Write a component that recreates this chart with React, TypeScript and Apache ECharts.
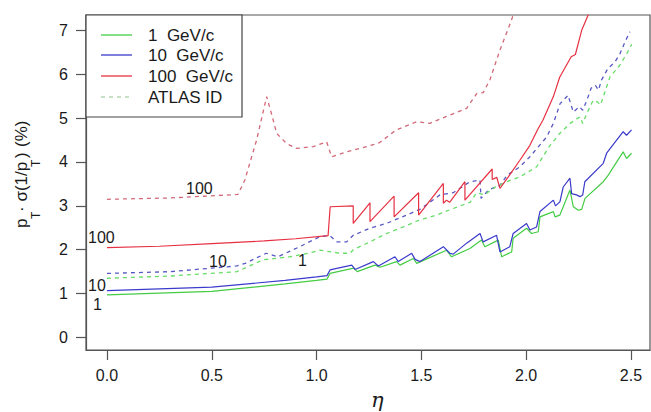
import React, { useEffect, useRef } from "react";
import * as echarts from "echarts";

// ---- axis ticks ----
const xTicks = [0, 0.5, 1.0, 1.5, 2.0, 2.5];
const yTicks = [0, 1, 2, 3, 4, 5, 6, 7];

// ---- series data: [eta, value(%)] ----
const green1: number[][] = [
  [0, 0.97], [0.5, 1.05], [0.85, 1.22], [1.0, 1.3], [1.05, 1.33], [1.064, 1.46],
  [1.178, 1.58], [1.194, 1.5], [1.279, 1.65], [1.303, 1.6], [1.382, 1.73], [1.398, 1.65],
  [1.462, 1.8], [1.478, 1.69], [1.62, 1.99], [1.644, 1.84], [1.732, 2.03], [1.787, 2.22],
  [1.803, 2.07], [1.867, 2.22], [1.883, 1.84], [1.931, 1.95], [1.938, 2.26], [2.002, 2.49],
  [2.026, 2.37], [2.058, 2.41], [2.066, 2.75], [2.13, 2.87], [2.138, 2.75], [2.161, 2.79],
  [2.177, 2.98], [2.209, 3.36], [2.225, 2.98], [2.249, 2.9], [2.265, 2.92], [2.281, 3.17],
  [2.368, 3.55], [2.392, 3.7], [2.463, 4.23], [2.479, 4.08], [2.503, 4.2],
];
const blue10: number[][] = [
  [0, 1.07], [0.5, 1.15], [0.85, 1.3], [1.0, 1.38], [1.05, 1.41], [1.064, 1.54],
  [1.168, 1.65], [1.184, 1.55], [1.271, 1.73], [1.295, 1.63], [1.374, 1.84], [1.39, 1.73],
  [1.454, 1.92], [1.47, 1.78], [1.494, 1.73], [1.605, 2.07], [1.636, 1.92], [1.652, 1.9],
  [1.716, 2.15], [1.78, 2.37], [1.795, 2.18], [1.859, 2.33], [1.875, 1.95], [1.922, 2.07],
  [1.938, 2.37], [2.002, 2.6], [2.018, 2.45], [2.05, 2.52], [2.066, 2.87], [2.13, 3.13],
  [2.14, 3.0], [2.161, 3.09], [2.177, 3.43], [2.209, 3.63], [2.217, 3.28], [2.24, 3.25],
  [2.257, 3.21], [2.27, 3.25], [2.28, 3.55], [2.368, 3.97], [2.384, 4.2], [2.463, 4.69],
  [2.479, 4.61], [2.503, 4.73],
];
const red100: number[][] = [
  [0, 2.05], [0.25, 2.08], [0.5, 2.14], [0.75, 2.2], [0.9, 2.25], [1.055, 2.32],
  [1.065, 2.98], [1.175, 3.0], [1.175, 2.6], [1.255, 3.07], [1.255, 2.64], [1.37, 3.22],
  [1.37, 2.75], [1.487, 3.3], [1.487, 2.79], [1.605, 3.51], [1.605, 3.06], [1.62, 3.13],
  [1.635, 3.08], [1.708, 3.55], [1.708, 3.13], [1.838, 3.84], [1.838, 3.6], [1.86, 3.65],
  [1.875, 3.4], [1.915, 3.66], [1.97, 4.04], [2.018, 4.38], [2.055, 4.74], [2.08, 4.95],
  [2.13, 5.49], [2.16, 5.93], [2.215, 6.4], [2.235, 6.45], [2.265, 7.0], [2.296, 7.35],
  [2.32, 7.7],
];
const atlas1: number[][] = [
  [0, 1.35], [0.3, 1.4], [0.62, 1.5], [0.745, 1.77], [0.873, 1.84], [0.96, 1.92],
  [1.016, 1.99], [1.112, 1.92], [1.16, 1.92], [1.175, 2.0], [1.255, 2.18], [1.334, 2.37],
  [1.414, 2.52], [1.493, 2.68], [1.573, 2.79], [1.652, 2.94], [1.732, 3.08], [1.764, 3.3],
  [1.8, 3.25], [1.85, 3.42], [1.907, 3.55], [1.97, 3.66], [2.05, 3.89], [2.11, 4.35],
  [2.16, 4.65], [2.21, 4.88], [2.257, 5.03], [2.27, 4.88], [2.29, 5.11], [2.32, 5.41],
  [2.34, 5.37], [2.355, 5.3], [2.4, 5.94], [2.448, 6.21], [2.48, 6.47], [2.504, 6.68],
];
const atlas10: number[][] = [
  [0, 1.46], [0.3, 1.5], [0.62, 1.63], [0.66, 1.69], [0.76, 1.92], [0.816, 1.84],
  [0.92, 2.07], [1.016, 2.3], [1.064, 2.32], [1.096, 2.18], [1.144, 2.18], [1.175, 2.33],
  [1.255, 2.49], [1.334, 2.6], [1.43, 2.79], [1.493, 2.92], [1.589, 3.25], [1.652, 3.3],
  [1.732, 3.55], [1.78, 3.59], [1.785, 3.17], [1.82, 3.36], [1.875, 3.47], [1.91, 3.7],
  [1.97, 3.89], [2.018, 4.12], [2.098, 4.57], [2.13, 4.88], [2.162, 5.33], [2.2, 5.52],
  [2.225, 5.14], [2.254, 5.26], [2.27, 5.18], [2.29, 5.41], [2.31, 5.68], [2.33, 5.75],
  [2.345, 5.64], [2.36, 5.87], [2.39, 6.13], [2.424, 6.28], [2.448, 6.47], [2.472, 6.74],
  [2.495, 6.97],
];
const atlas100: number[][] = [
  [0, 3.15], [0.3, 3.18], [0.625, 3.26], [0.658, 3.59], [0.714, 4.5], [0.762, 5.49],
  [0.785, 5.1], [0.81, 4.65], [0.857, 4.42], [0.905, 4.31], [0.984, 4.35], [1.048, 4.46],
  [1.072, 4.12], [1.144, 4.23], [1.24, 4.35], [1.3, 4.44], [1.38, 4.73], [1.478, 4.92],
  [1.54, 4.88], [1.636, 5.07], [1.716, 5.22], [1.764, 5.56], [1.795, 5.58], [1.827, 5.87],
  [1.875, 6.55], [1.93, 7.23], [1.96, 7.7],
];

const legendLabels = ["1\u00a0\u00a0GeV/c", "10\u00a0\u00a0GeV/c", "100\u00a0\u00a0GeV/c", "ATLAS ID"];

const C_GREEN = "#44cc44";
const C_BLUE = "#3a3acc";
const C_RED = "#e63042";
const C_GREEN_D = "#66dd66";
const C_BLUE_D = "#5858c4";
const C_RED_D = "#d26878";
const FONT = "Liberation Sans, Arial, sans-serif";
const TXT = "#1a1a1a";

function txt(text: string, x: number, y: number, size = 16, extra: any = {}) {
  return {
    type: "text",
    x,
    y,
    silent: true,
    style: {
      text,
      fontSize: size,
      fontFamily: FONT,
      fill: TXT,
      align: "left",
      textAlign: "left",
      verticalAlign: "middle",
      textVerticalAlign: "middle",
      ...extra,
    },
  };
}

export default function App() {
  const ref = useRef<HTMLDivElement>(null);
  useEffect(() => {
    document.body.style.margin = "0";
    const chart = echarts.init(ref.current!, null, { renderer: "svg" });
    const line = (name: string, data: number[][], color: string, dashed: boolean) => ({
      name,
      type: "line",
      data,
      showSymbol: false,
      symbol: "none",
      clip: true,
      silent: true,
      lineStyle: { color, width: dashed ? 1.3 : 1.2, type: dashed ? [4, 4] : "solid" },
      z: dashed ? 2 : 3,
    });
    const legendRows = [35, 55, 76, 97];
    const legendColors = [C_GREEN, C_BLUE, C_RED, "#b4d8b4"];
    const graphic: any[] = [
      { type: "rect", shape: { x: 86, y: 15, width: 156, height: 102 }, style: { fill: "#fff", stroke: "#444", lineWidth: 1.2 }, z: 50 },
    ];
    legendRows.forEach((y, i) => {
      graphic.push({
        type: "line",
        shape: { x1: 101, y1: y, x2: 132, y2: y },
        style: { stroke: legendColors[i], lineWidth: 1.3, lineDash: i === 3 ? [4, 4] : null },
        z: 51,
      });
      graphic.push({ ...txt(legendLabels[i], 148, y, 17), z: 51 });
    });
    // inline curve labels
    graphic.push(txt("100", 88, 237, 16));
    graphic.push(txt("10", 88, 285, 16));
    graphic.push(txt("1", 93, 304, 16));
    graphic.push(txt("10", 209, 261, 16));
    graphic.push(txt("1", 298, 260, 16));
    graphic.push(txt("100", 186, 188, 16));
    // x axis title
    graphic.push(txt("\u03b7", 371, 400, 21, { fontFamily: "DejaVu Serif, serif", fontStyle: "italic" }));
    // y axis title (rotated)
    graphic.push({
      type: "group",
      x: 0,
      y: 230,
      rotation: Math.PI / 2,
      children: [
        txt("p", 2, 21.5, 17),
        txt("T", 11, 36, 12),
        txt("\u00b7 \u03c3(1/p", 18, 21.5, 17),
        txt("T", 63, 36, 12),
        txt(")", 72, 21.5, 17),
        txt("(%)", 83, 21.5, 17),
      ],
    });

    chart.setOption({
      animation: false,
      backgroundColor: "#ffffff",
      grid: { left: 86, top: 15, width: 564, height: 335, show: true, borderColor: "#555", borderWidth: 1.2, backgroundColor: "transparent" },
      xAxis: {
        type: "value",
        min: -0.1,
        max: 2.591,
        splitLine: { show: false },
        axisLine: { show: true, onZero: false, lineStyle: { color: "#555", width: 1.2 } },
        axisTick: { show: true, length: 10, customValues: xTicks, lineStyle: { color: "#555", width: 1.2 } },
        axisLabel: {
          customValues: xTicks,
          formatter: (v: number) => v.toFixed(1),
          fontSize: 16,
          fontFamily: FONT,
          color: TXT,
          margin: 17,
        },
      },
      yAxis: {
        type: "value",
        min: -0.285,
        max: 7.35,
        splitLine: { show: false },
        axisLine: { show: true, onZero: false, lineStyle: { color: "#555", width: 1.2 } },
        axisTick: { show: true, length: 10, customValues: yTicks, lineStyle: { color: "#555", width: 1.2 } },
        axisLabel: {
          customValues: yTicks,
          formatter: (v: number) => String(v),
          fontSize: 16,
          fontFamily: FONT,
          color: TXT,
          margin: 18,
        },
      },
      series: [
        line("ATLAS ID 100", atlas100, C_RED_D, true),
        line("ATLAS ID 10", atlas10, C_BLUE_D, true),
        line("ATLAS ID 1", atlas1, C_GREEN_D, true),
        line("1 GeV/c", green1, C_GREEN, false),
        line("10 GeV/c", blue10, C_BLUE, false),
        line("100 GeV/c", red100, C_RED, false),
      ],
      graphic,
    });
    return () => chart.dispose();
  }, []);
  return <div ref={ref} style={{ width: 651, height: 412 }} />;
}
